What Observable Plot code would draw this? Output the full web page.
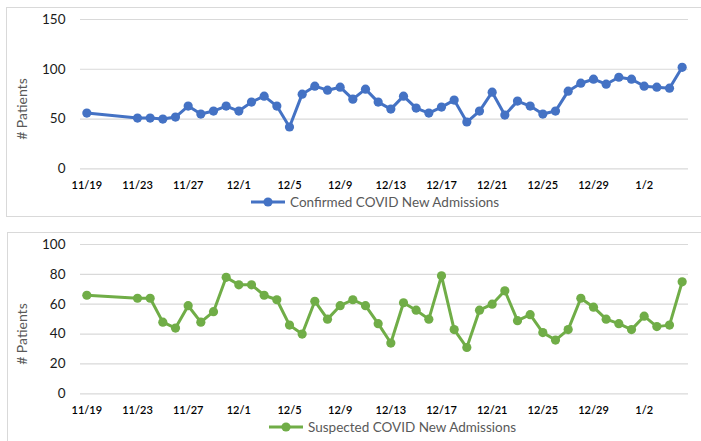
<!DOCTYPE html>
<html>
<head>
<meta charset="utf-8">
<script src="https://cdn.jsdelivr.net/npm/d3@7"></script>
<script src="https://cdn.jsdelivr.net/npm/@observablehq/plot@0.6"></script>
<style>
  html, body { margin: 0; padding: 0; background: #fff; }
  #root { position: relative; width: 701px; height: 441px; overflow: hidden; font-family: Lato, "Open Sans", sans-serif; }
  .panel { position: absolute; border: 1px solid #d9d9d9; box-sizing: border-box; }
  .plot { position: absolute; left: 0; }
  .legend { position: absolute; display: flex; align-items: center; color: #595959; font-size: 13.5px; white-space: nowrap; }
</style>
</head>
<body>
<div id="root"></div>
<script>
// ---- data ----
const dates = [
  "2020-11-19",
  "2020-11-23", "2020-11-24", "2020-11-25", "2020-11-26", "2020-11-27", "2020-11-28", "2020-11-29", "2020-11-30",
  "2020-12-01", "2020-12-02", "2020-12-03", "2020-12-04", "2020-12-05", "2020-12-06", "2020-12-07", "2020-12-08", "2020-12-09", "2020-12-10",
  "2020-12-11", "2020-12-12", "2020-12-13", "2020-12-14", "2020-12-15", "2020-12-16", "2020-12-17", "2020-12-18", "2020-12-19", "2020-12-20",
  "2020-12-21", "2020-12-22", "2020-12-23", "2020-12-24", "2020-12-25", "2020-12-26", "2020-12-27", "2020-12-28", "2020-12-29", "2020-12-30", "2020-12-31",
  "2021-01-01", "2021-01-02", "2021-01-03", "2021-01-04", "2021-01-05"
];
const confirmed = [
  56,
  51, 51, 50, 52, 63, 55, 58, 63,
  58, 67, 73, 63, 42, 75, 83, 79, 82, 70,
  80, 67, 60, 73, 61, 56, 62, 69, 47, 58,
  77, 54, 68, 63, 55, 58, 78, 86, 90, 85, 92,
  90, 83, 82, 81, 102
];
const suspected = [
  66,
  64, 64, 48, 44, 59, 48, 55, 78,
  73, 73, 66, 63, 46, 40, 62, 50, 59, 63,
  59, 47, 34, 61, 56, 50, 79, 43, 31, 56,
  60, 69, 49, 53, 41, 36, 43, 64, 58, 50, 47,
  43, 52, 45, 46, 75
];
const tickDates = ["2020-11-19", "2020-11-23", "2020-11-27", "2020-12-01", "2020-12-05", "2020-12-09",
  "2020-12-13", "2020-12-17", "2020-12-21", "2020-12-25", "2020-12-29", "2021-01-02"];
const tickLabels = ["11/19", "11/23", "11/27", "12/1", "12/5", "12/9", "12/13", "12/17", "12/21", "12/25", "12/29", "1/2"];
const topYTicks = [0, 50, 100, 150];
const bottomYTicks = [0, 20, 40, 60, 80, 100];
const seriesNames = ["Confirmed COVID New Admissions", "Suspected COVID New Admissions"];
const colors = ["#4472C4", "#70AD47"];
const yLabel = "# Patients";

// ---- build ----
const parse = s => new Date(s + "T00:00:00Z");
const xDomain = [new Date("2020-11-18T12:00:00Z"), new Date("2021-01-05T12:00:00Z")];
const tickMap = new Map(tickDates.map((d, i) => [+parse(d), tickLabels[i]]));

function makeChart(values, color, yTicks, opts) {
  const data = dates.map((d, i) => ({date: parse(d), value: values[i]}));
  return Plot.plot({
    width: 701,
    height: opts.height,
    marginLeft: 80,
    marginRight: 13,
    marginTop: opts.marginTop,
    marginBottom: opts.marginBottom,
    style: {fontFamily: "Lato, 'Open Sans', sans-serif", background: "transparent", overflow: "visible"},
    x: {type: "utc", domain: xDomain},
    y: {domain: [0, yTicks[yTicks.length - 1]]},
    marks: [
      Plot.ruleY(yTicks, {stroke: "#d9d9d9", strokeWidth: 1.2}),
      Plot.axisY({ticks: yTicks, tickSize: 0, tickPadding: 15, fontSize: 13.5, label: null, fill: "#1a1a1a"}),
      Plot.axisX({ticks: tickDates.map(parse), tickSize: 0, tickPadding: 12, fontSize: 11, label: null,
        tickFormat: d => tickMap.get(+d), fill: "#000", fontWeight: 600}),
      Plot.text([{v: opts.labelAt}], {y: "v", text: () => yLabel, frameAnchor: "left", textAnchor: "middle",
        rotate: -90, dx: -58, fontSize: 14, fill: "#595959"}),
      Plot.lineY(data, {x: "date", y: "value", stroke: color, strokeWidth: 3}),
      Plot.dot(data, {x: "date", y: "value", fill: color, r: 4.6})
    ]
  });
}

function legend(name, color, left, top) {
  const el = document.createElement("div");
  el.className = "legend";
  el.style.left = left + "px";
  el.style.top = top + "px";
  const sw = `<svg width="37" height="12" style="margin-right:3px"><line x1="1" y1="6" x2="35" y2="6" stroke="${color}" stroke-width="3"/><circle cx="18" cy="6" r="4.6" fill="${color}"/></svg>`;
  el.innerHTML = sw + `<span>${name}</span>`;
  return el;
}

const root = document.getElementById("root");
function panel(l, t, w, h) {
  const p = document.createElement("div");
  p.className = "panel";
  Object.assign(p.style, {left: l + "px", top: t + "px", width: w + "px", height: h + "px"});
  root.appendChild(p);
}
panel(6, 7, 710, 210);
panel(7, 232, 710, 230);

const c1 = makeChart(confirmed, colors[0], topYTicks, {height: 200, marginTop: 19, marginBottom: 31.7, labelAt: 60});
c1.classList.add("plot"); c1.style.top = "0px";
root.appendChild(c1);
const c2 = makeChart(suspected, colors[1], bottomYTicks, {height: 200, marginTop: 24, marginBottom: 26.7, labelAt: 40});
c2.classList.add("plot"); c2.style.top = "220px";
root.appendChild(c2);

root.appendChild(legend(seriesNames[0], colors[0], 250, 194));
root.appendChild(legend(seriesNames[1], colors[1], 268, 419));
</script>
</body>
</html>
